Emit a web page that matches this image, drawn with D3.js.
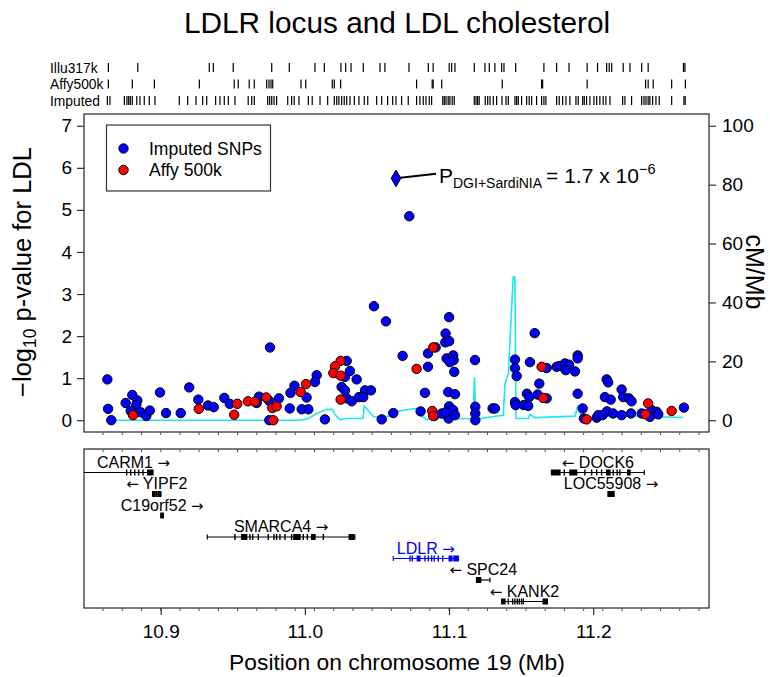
<!DOCTYPE html>
<html>
<head>
<meta charset="utf-8">
<script src="https://cdn.jsdelivr.net/npm/d3@7"></script>
<style>
  body { margin: 0; background: #fff; }
  svg { display: block; font-family: "Liberation Sans", Arial, Helvetica, sans-serif; }
</style>
</head>
<body>
<svg id="chart" width="770" height="677"></svg>
<script>
// association results: [position (Mb), -log10 p]
const imputedSnps = [
  [10.8630,0.97],[10.8635,0.27],[10.8657,0.00],[10.8757,0.41],[10.8803,0.60],[10.8838,0.47],[10.8831,0.37],
  [10.8792,0.22],[10.8861,0.19],[10.8900,0.10],[10.8924,0.23],[10.8995,0.66],[10.9037,0.17],[10.9139,0.17],
  [10.9198,0.78],[10.9261,0.49],[10.9328,0.35],[10.9368,0.31],[10.9441,0.53],[10.9479,0.39],[10.9666,0.41],
  [10.9682,0.56],[10.9758,1.73],[10.9753,0.46],[10.9820,0.52],[10.9753,0.00],[10.9895,0.28],[10.9900,0.65],
  [10.9928,0.82],[11.0012,0.54],[11.0082,1.07],[11.0070,0.91],[10.9978,0.26],[11.0024,0.26],[11.0139,0.02],
  [11.0290,1.41],[11.0278,1.03],[11.0313,1.17],[11.0359,0.97],[11.0255,0.79],[11.0278,0.71],[11.0290,0.52],
  [11.0325,0.45],[11.0375,0.55],[11.0417,0.71],[11.0458,0.71],[11.0405,0.55],[11.0479,2.71],[11.0562,2.35],
  [11.0533,0.02],[11.0613,0.17],[11.0678,1.53],[11.0724,4.85],[11.0803,0.21],[11.0833,0.65],[11.0854,1.59],
  [11.0854,1.27],[11.0907,1.73],[11.0897,0.10],[11.0949,0.16],[11.0976,2.06],[11.0974,1.85],[11.1000,2.45],
  [11.1001,1.88],[11.0983,1.47],[11.1029,1.54],[11.1032,1.43],[11.1006,1.38],[11.1036,1.15],[11.0994,0.67],
  [11.1041,0.62],[11.1001,0.33],[11.1029,0.24],[11.0997,0.04],[11.0978,0.19],[11.1041,0.12],[11.1180,1.43],
  [11.1182,0.32],[11.1182,0.16],[11.1182,0.00],[11.1302,0.28],[11.1457,1.44],[11.1457,1.24],[11.1469,1.05],
  [11.1561,1.38],[11.1594,2.07],[11.1677,1.24],[11.1746,1.27],[11.1769,1.29],[11.1804,1.35],[11.1832,1.32],
  [11.1809,1.19],[11.1873,1.16],[11.1892,1.54],[11.1892,1.47],[11.1626,0.87],[11.1614,0.61],[11.1540,0.63],
  [11.1556,0.55],[11.1517,0.36],[11.1549,0.34],[11.1457,0.43],[11.1462,0.36],[11.1677,0.52],[11.1318,0.28],
  [11.1892,0.63],[11.1927,0.28],[11.1935,0.04],[11.2024,0.06],[11.2035,0.12],[11.2093,0.97],[11.2104,0.90],
  [11.2081,0.55],[11.2121,0.49],[11.2095,0.21],[11.2065,0.12],[11.2138,0.16],[11.2197,0.73],[11.2208,0.55],
  [11.2248,0.52],[11.2266,0.45],[11.2197,0.12],[11.2262,0.16],[11.2336,0.16],[11.2405,0.24],[11.2440,0.20],
  [11.2451,0.14],[11.2393,0.08],[11.2629,0.30]
];
const affySnps = [
  [10.8808,0.12],[10.9264,0.27],[10.9510,0.13],[10.9531,0.39],[10.9605,0.45],[10.9652,0.44],[10.9732,0.54],
  [10.9774,0.29],[10.9804,0.33],[10.9781,0.00],[11.0008,0.86],[10.9971,0.67],[11.0248,1.41],[11.0209,1.28],
  [11.0197,1.12],[11.0248,1.06],[11.0248,0.49],[11.0775,1.22],[11.0890,1.73],[11.0883,0.22],[11.0890,0.10],
  [11.1642,1.27],[11.1653,0.53],[11.1954,0.02],[11.2381,0.40],[11.2363,0.14],[11.2544,0.22]
];
const topSnp = [11.0632, 5.75];

// recombination rate (cM/Mb)
const recombPos = [10.8637,10.9966,11.0024,11.0082,11.0151,11.0191,11.0209,11.0243,11.0290,11.0403,11.0412,
  11.0479,11.0590,11.0613,11.0729,11.0775,11.0810,11.0845,11.0914,11.0944,11.0970,11.1006,11.1053,11.1168,
  11.1176,11.1187,11.1284,11.1376,11.1388,11.1411,11.1445,11.1457,11.1464,11.1549,11.1561,11.1596,11.1873,
  11.1892,11.1915,11.1931,11.2012,11.2081,11.2289,11.2624];
const recombRate = [0,0,0.6,2.3,3.7,3.7,1.9,0.2,0.6,0.6,4.8,1.1,1.4,2.8,3.7,4.0,1.4,0.2,0.6,1.0,0.3,0.7,0.6,0.5,
  14.6,0.2,1.1,1.7,12.4,15.8,48.6,48.6,0.6,0.6,2.0,0.9,1.4,4.7,1.7,0.2,1.1,1.7,1.4,0.9];

// SNP coverage of each platform (Mb)
const illuTicks = [10.8637,10.8841,10.9337,10.9365,10.9503,10.9770,10.9892,11.0070,11.0135,11.0250,11.0283,
  11.0320,11.0405,11.0521,11.0555,11.0722,11.0856,11.0890,11.1001,11.1018,11.1041,11.1175,11.1249,11.1279,
  11.1318,11.1365,11.1381,11.1462,11.1658,11.1746,11.1832,11.1958,11.2030,11.2093,11.2111,11.2128,11.2208,
  11.2255,11.2336,11.2381,11.2626,11.2636];
const affyTicks = [10.8637,10.8803,10.8956,10.9268,10.9510,10.9538,10.9614,10.9649,10.9735,10.9751,10.9765,
  10.9777,10.9973,11.0006,11.0190,11.0204,11.0248,11.0775,11.0883,11.0890,11.0949,11.1369,11.1642,11.1649,
  11.1958,11.2363,11.2381,11.2416,11.2544,11.2639];
const imputedTicks = [10.8630,10.8648,10.8748,10.8766,10.8778,10.8789,10.8803,10.8834,10.8856,10.8886,10.8921,
  10.8960,10.9129,10.9187,10.9245,10.9291,10.9319,10.9381,10.9411,10.9441,10.9469,10.9515,10.9607,10.9631,
  10.9649,10.9742,10.9756,10.9770,10.9786,10.9804,10.9881,10.9908,10.9926,10.9959,11.0024,11.0051,11.0105,
  11.0158,11.0204,11.0221,11.0236,11.0255,11.0273,11.0290,11.0313,11.0343,11.0375,11.0412,11.0436,11.0498,
  11.0533,11.0574,11.0609,11.0632,11.0671,11.0717,11.0775,11.0798,11.0821,11.0840,11.0863,11.0879,11.0956,
  11.0967,11.0979,11.0994,11.1006,11.1022,11.1036,11.1175,11.1187,11.1198,11.1209,11.1251,11.1268,11.1284,
  11.1307,11.1330,11.1367,11.1395,11.1411,11.1457,11.1469,11.1480,11.1503,11.1538,11.1556,11.1573,11.1607,
  11.1642,11.1658,11.1672,11.1746,11.1764,11.1788,11.1811,11.1838,11.1880,11.1896,11.1927,11.1938,11.1954,
  11.1977,11.2005,11.2024,11.2046,11.2069,11.2088,11.2116,11.2204,11.2220,11.2266,11.2336,11.2352,11.2366,
  11.2381,11.2393,11.2412,11.2435,11.2458,11.2544,11.2629,11.2638];

// genes: start/end (Mb), strand, display row, exons [start, end]
const genes = [
  { name: 'CARM1', start: 10.840, end: 10.8945, strand: 1, row: 0,
    exons: [[10.8764,10.8764],[10.8792,10.8792],[10.8820,10.8820],[10.8847,10.8847],[10.8877,10.8877],[10.8910,10.8945]] },
  { name: 'YIPF2', start: 10.8945, end: 10.9000, strand: -1, row: 1,
    exons: [[10.8945,10.8957],[10.8967,10.8974],[10.8984,10.9000]] },
  { name: 'C19orf52', start: 10.9002, end: 10.9018, strand: 1, row: 2,
    exons: [[10.9002,10.9018]] },
  { name: 'SMARCA4', start: 10.9323, end: 11.0347, strand: 1, row: 3,
    exons: [[10.9515,10.9515],[10.9562,10.9596],[10.9619,10.9619],[10.9638,10.9638],[10.9677,10.9677],
      [10.9746,10.9746],[10.9786,10.9786],[10.9804,10.9804],[10.9827,10.9827],[10.9862,10.9862],[10.9908,10.9908],
      [10.9924,10.9966],[10.9989,10.9989],[11.0017,11.0017],[11.0047,11.0070],[11.0128,11.0128],[11.0308,11.0340]] },
  { name: 'LDLR', start: 11.0613, end: 11.1064, strand: 1, row: 4, color: '#0000ff',
    exons: [[11.0729,11.0729],[11.0745,11.0745],[11.0780,11.0798],[11.0833,11.0833],[11.0856,11.0856],
      [11.0879,11.0879],[11.0897,11.0897],[11.0925,11.0925],[11.0956,11.0956],[11.1001,11.1020],[11.1034,11.1064]] },
  { name: 'SPC24', start: 11.1191, end: 11.1284, strand: -1, row: 5,
    exons: [[11.1191,11.1219]] },
  { name: 'KANK2', start: 11.1365, end: 11.1681, strand: -1, row: 6,
    exons: [[11.1365,11.1388],[11.1411,11.1411],[11.1441,11.1441],[11.1457,11.1457],[11.1473,11.1473],
      [11.1487,11.1487],[11.1503,11.1503],[11.1515,11.1515],[11.1653,11.1681]] },
  { name: 'DOCK6', start: 11.1711, end: 11.2354, strand: -1, row: 0,
    exons: [[11.1711,11.1769],[11.1799,11.1799],[11.1838,11.1885],[11.1942,11.1942],[11.1989,11.1989],
      [11.2024,11.2024],[11.2058,11.2058],[11.2093,11.2116],[11.2139,11.2139],[11.2166,11.2166],[11.2185,11.2185],
      [11.2239,11.2255]] },
  { name: 'LOC55908', start: 11.2104, end: 11.2143, strand: 1, row: 1,
    exons: [[11.2104,11.2143]] }
];

const xTicks = [10.9, 11.0, 11.1, 11.2];
const yTicks = [0, 1, 2, 3, 4, 5, 6, 7];
const rateTicks = [0, 20, 40, 60, 80, 100];

const svg = d3.select('#chart');
const left = 84, right = 709;
const mainTop = 114, mainBottom = 432;
const geneTop = 449, geneBottom = 608;

const x = d3.scaleLinear().domain([10.8468, 11.2803]).range([left, right]);
const y = d3.scaleLinear().domain([-0.28, 7.28]).range([mainBottom, mainTop]);
const yRate = d3.scaleLinear().domain([-4, 104]).range([mainBottom, mainTop]);
const geneRow = d3.scaleLinear().domain([0, 6]).range([472.5, 601.5]);

// title
svg.append('text')
  .attr('x', 397).attr('y', 33)
  .attr('text-anchor', 'middle')
  .attr('font-size', 29.8)
  .text('LDLR locus and LDL cholesterol');

// platform coverage rows
const rows = [
  { label: 'Illu317k', ticks: illuTicks, y: 67.5 },
  { label: 'Affy500k', ticks: affyTicks, y: 84 },
  { label: 'Imputed', ticks: imputedTicks, y: 100.5 }
];
rows.forEach(r => {
  svg.append('text')
    .attr('x', 50).attr('y', r.y + 5)
    .attr('font-size', 13.8)
    .text(r.label);
  svg.append('g').selectAll('line')
    .data(r.ticks).enter()
    .append('line')
    .attr('x1', d => x(d)).attr('x2', d => x(d))
    .attr('y1', r.y - 4.5).attr('y2', r.y + 4.5)
    .attr('stroke', '#000').attr('stroke-width', 1.2);
});

// main panel box
svg.append('rect')
  .attr('x', left).attr('y', mainTop)
  .attr('width', right - left).attr('height', mainBottom - mainTop)
  .attr('fill', 'none').attr('stroke', '#333').attr('stroke-width', 1.3);

const styleAxis = (g, size) => {
  g.select('.domain').remove();
  g.selectAll('line').attr('stroke', '#333').attr('stroke-width', 1.2);
  g.selectAll('text').attr('font-size', size).attr('fill', '#000')
    .attr('font-family', '"Liberation Sans", Arial, sans-serif');
};

svg.append('g')
  .attr('transform', `translate(${left},0)`)
  .call(d3.axisLeft(y).tickValues(yTicks).tickSize(7).tickPadding(5))
  .call(g => styleAxis(g, 19));

svg.append('g')
  .attr('transform', `translate(${right},0)`)
  .call(d3.axisRight(yRate).tickValues(rateTicks).tickSize(7).tickPadding(6))
  .call(g => styleAxis(g, 19));

// minor position ticks
const minorTicks = d3.range(-3, 29).map(i => 10.9 + i * 0.2 / 15).filter(v => x(v) > left + 2 && x(v) < right - 2);
svg.append('g').selectAll('line')
  .data(minorTicks).enter().append('line')
  .attr('x1', d => x(d)).attr('x2', d => x(d))
  .attr('y1', mainBottom).attr('y2', mainBottom + 3)
  .attr('stroke', '#555').attr('stroke-width', 1);

// recombination rate
svg.append('path')
  .datum(recombPos.map((p, i) => [p, recombRate[i]]))
  .attr('fill', 'none')
  .attr('stroke', '#1ee6f0')
  .attr('stroke-width', 1.6)
  .attr('d', d3.line().x(d => x(d[0])).y(d => yRate(d[1])));

// SNP points
svg.append('g').selectAll('circle')
  .data(imputedSnps).enter().append('circle')
  .attr('cx', d => x(d[0])).attr('cy', d => y(d[1]))
  .attr('r', 4.7)
  .attr('fill', '#0000ff').attr('stroke', '#000').attr('stroke-width', 1);

svg.append('g').selectAll('circle')
  .data(affySnps).enter().append('circle')
  .attr('cx', d => x(d[0])).attr('cy', d => y(d[1]))
  .attr('r', 4.7)
  .attr('fill', '#ff0000').attr('stroke', '#000').attr('stroke-width', 1);

// top SNP and annotation
const tx = x(topSnp[0]), ty = y(topSnp[1]);
svg.append('line')
  .attr('x1', tx).attr('y1', ty)
  .attr('x2', tx + 40).attr('y2', ty - 4.5)
  .attr('stroke', '#000').attr('stroke-width', 2);
svg.append('path')
  .attr('d', d3.symbol().type(d3.symbolDiamond).size(80)())
  .attr('transform', `translate(${tx},${ty})`)
  .attr('fill', '#0000ff').attr('stroke', '#000').attr('stroke-width', 1);

const ann = svg.append('text')
  .attr('x', tx + 43).attr('y', ty + 5)
  .attr('font-size', 21);
ann.append('tspan').text('P');
ann.append('tspan').attr('font-size', 14).attr('dy', 5).text('DGI+SardiNIA');
ann.append('tspan').attr('dy', -5).attr('dx', 4).text('= 1.7 x 10');
ann.append('tspan').attr('font-size', 14.5).attr('dy', -9).text('\u22126');

// legend
const legend = svg.append('g');
legend.append('rect')
  .attr('x', 106.5).attr('y', 125).attr('width', 164).attr('height', 66)
  .attr('fill', '#fff').attr('stroke', '#333').attr('stroke-width', 1.2);
[['Imputed SNPs', '#0000ff', 148.5], ['Affy 500k', '#ff0000', 170]].forEach(([label, col, ly]) => {
  legend.append('circle')
    .attr('cx', 123.5).attr('cy', ly).attr('r', 4.7)
    .attr('fill', col).attr('stroke', '#000').attr('stroke-width', 1);
  legend.append('text')
    .attr('x', 149).attr('y', ly + 6)
    .attr('font-size', 17.5)
    .text(label);
});

// axis titles
const yLab = svg.append('text')
  .attr('transform', 'translate(31,272) rotate(-90)')
  .attr('text-anchor', 'middle')
  .attr('font-size', 25.5);
yLab.append('tspan').text('\u2212log');
yLab.append('tspan').attr('font-size', 17.5).attr('dy', 5).text('10');
yLab.append('tspan').attr('dy', -5).text(' p-value for LDL');

svg.append('text')
  .attr('transform', 'translate(746,272) rotate(90)')
  .attr('text-anchor', 'middle')
  .attr('font-size', 25)
  .text('cM/Mb');

// gene panel
svg.append('rect')
  .attr('x', left).attr('y', geneTop)
  .attr('width', right - left).attr('height', geneBottom - geneTop)
  .attr('fill', 'none').attr('stroke', '#333').attr('stroke-width', 1.3);

svg.append('g').selectAll('line')
  .data(minorTicks).enter().append('line')
  .attr('x1', d => x(d)).attr('x2', d => x(d))
  .attr('y1', geneTop).attr('y2', geneTop + 3)
  .attr('stroke', '#555').attr('stroke-width', 1);
svg.append('g').selectAll('line')
  .data(minorTicks).enter().append('line')
  .attr('x1', d => x(d)).attr('x2', d => x(d))
  .attr('y1', geneBottom).attr('y2', geneBottom + 3)
  .attr('stroke', '#555').attr('stroke-width', 1);

svg.append('clipPath').attr('id', 'geneclip')
  .append('rect').attr('x', left).attr('y', geneTop).attr('width', right - left).attr('height', geneBottom - geneTop);

const geneG = svg.append('g').attr('clip-path', 'url(#geneclip)');
genes.forEach(g => {
  const col = g.color || '#000';
  const gy = geneRow(g.row);
  const x0 = x(g.start), x1 = x(g.end);
  geneG.append('line')
    .attr('x1', x0).attr('x2', x1).attr('y1', gy).attr('y2', gy)
    .attr('stroke', col).attr('stroke-width', 1.2);
  [x0, x1].forEach(xe => geneG.append('line')
    .attr('x1', xe).attr('x2', xe).attr('y1', gy - 2.5).attr('y2', gy + 2.5)
    .attr('stroke', col).attr('stroke-width', 1.2));
  geneG.selectAll(null)
    .data(g.exons).enter().append('rect')
    .attr('x', d => x(d[0]) - 0.7)
    .attr('y', gy - 3)
    .attr('width', d => Math.max(1.4, x(d[1]) - x(d[0]) + 1.4))
    .attr('height', 6)
    .attr('fill', col);

  const t = svg.append('text')
    .attr('y', gy - 5)
    .attr('text-anchor', 'middle')
    .attr('font-size', 16)
    .attr('fill', col);
  const arrow = (ch) => t.append('tspan').attr('font-family', '"DejaVu Sans", sans-serif').attr('font-size', 15).text(ch);
  if (g.strand > 0) {
    t.append('tspan').text(g.name + ' ');
    arrow('\u2192');
  } else {
    arrow('\u2190');
    t.append('tspan').text(' ' + g.name);
  }
  const w = t.node().getComputedTextLength();
  let cx = (x0 + x1) / 2;
  if (cx - w / 2 < left + 13) cx = left + 13 + w / 2;
  t.attr('x', cx);
});

// position axis
svg.append('g')
  .attr('transform', `translate(0,${geneBottom})`)
  .call(d3.axisBottom(x).tickValues(xTicks).tickSize(7).tickPadding(10).tickFormat(d3.format('.1f')))
  .call(g => styleAxis(g, 19));

svg.append('text')
  .attr('x', 397).attr('y', 670)
  .attr('text-anchor', 'middle')
  .attr('font-size', 22.8)
  .text('Position on chromosome 19 (Mb)');
</script>
</body>
</html>
